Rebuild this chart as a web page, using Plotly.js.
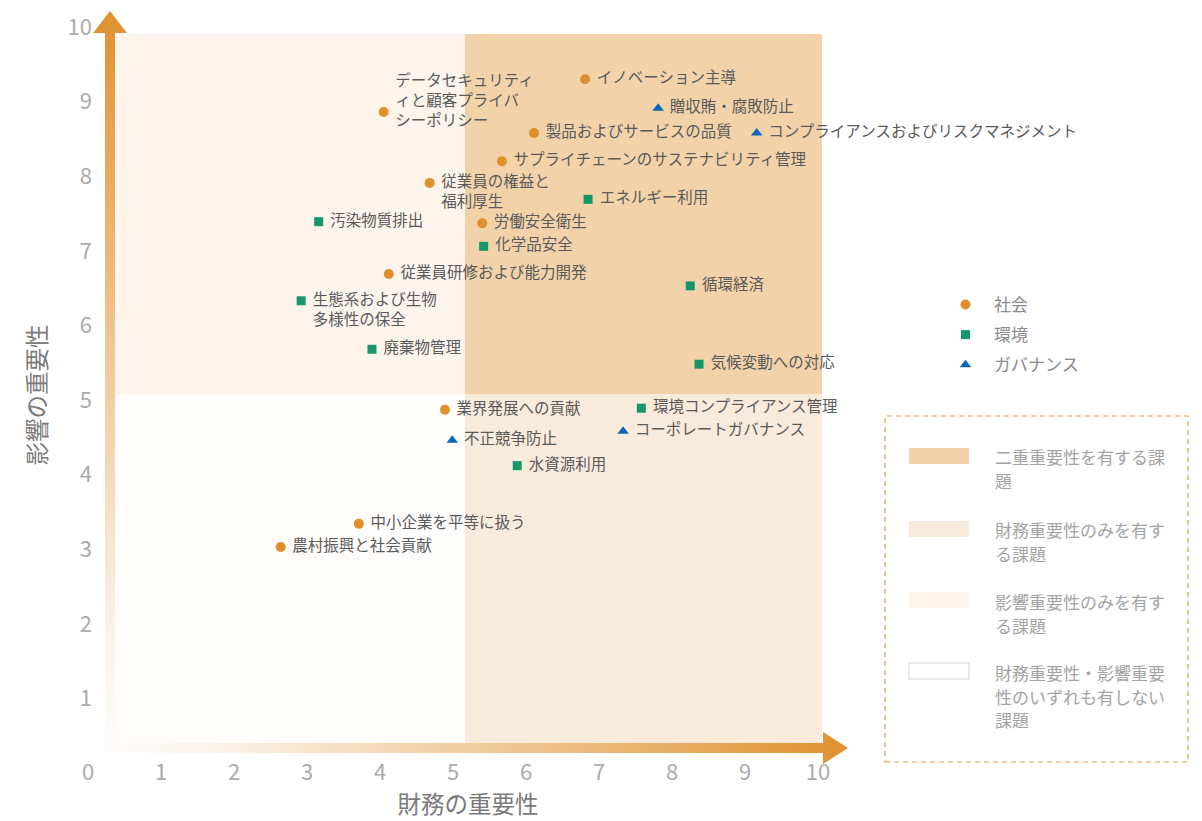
<!DOCTYPE html>
<html><head><meta charset="utf-8">
<script src="https://cdn.plot.ly/plotly-3.0.1.min.js"></script>
<style>html,body{margin:0;padding:0;background:#fff}#chart{width:1202px;height:821px}</style>
</head><body><div id="chart"></div>
<script>
// ---------- data ----------
const categories = ['社会', '環境', 'ガバナンス'];

const socialLabels = [
  'データセキュリティ<br>ィと顧客プライバ<br>シーポリシー<br>\u00a0',
  'イノベーション主導',
  '製品およびサービスの品質',
  'サプライチェーンのサステナビリティ管理',
  '\u00a0<br>従業員の権益と<br>福利厚生',
  '労働安全衛生',
  '従業員研修および能力開発',
  '業界発展への貢献',
  '中小企業を平等に扱う',
  '農村振興と社会貢献'
];
const socialX = [4.05, 6.81, 6.11, 5.67, 4.68, 5.40, 4.12, 4.89, 3.71, 2.64];
const socialY = [8.86, 9.30, 8.58, 8.20, 7.91, 7.37, 6.69, 4.87, 3.34, 3.03];

const envLabels = [
  '汚染物質排出',
  'エネルギー利用',
  '化学品安全',
  '循環経済',
  '\u00a0<br>生態系および生物<br>多様性の保全',
  '廃棄物管理',
  '気候変動への対応',
  '環境コンプライアンス管理',
  '水資源利用'
];
const envX = [3.16, 6.85, 5.42, 8.25, 2.92, 3.89, 8.37, 7.58, 5.88];
const envY = [7.39, 7.69, 7.06, 6.53, 6.33, 5.68, 5.48, 4.89, 4.12];

const govLabels = [
  '贈収賄・腐敗防止',
  'コンプライアンスおよびリスクマネジメント',
  '不正競争防止',
  'コーポレートガバナンス'
];
const govX = [7.81, 9.16, 4.99, 7.33];
const govY = [8.91, 8.58, 4.46, 4.58];

const xTickVals = [0, 1, 2, 3, 4, 5, 6, 7, 8, 9, 10];
const yTickVals = [1, 2, 3, 4, 5, 6, 7, 8, 9, 10];
const xTitle = '財務の重要性';
const yTitle = '影響の重要性';

const regionLabels = [
  ['二重重要性を有する課', '題'],
  ['財務重要性のみを有す', 'る課題'],
  ['影響重要性のみを有す', 'る課題'],
  ['財務重要性・影響重要', '性のいずれも有しない', '課題']
];

// ---------- styling ----------
const FONT = 'Noto Sans CJK JP, Noto Sans, sans-serif';
const C_SOC = '#e08f2c', C_ENV = '#16976a', C_GOV = '#0a67b8';
const ORANGE = '#e0912e';
const REG_COLORS = ['#f2d3a9', '#f9ebdc', '#fdf5ec', '#fefdfc'];

// pixel helpers for decoration (plot: l=76 r=342 t=0 b=31)
const W = 1202, H = 821, ML = 76, MR = 342, MT = 0, MB = 31;
const PW = W - ML - MR, PH = H - MT - MB;
const X0PX = 88, XU = 73, Y0PX = 773, YU = 74.6;
const dx = px => (px - X0PX) / XU;
const dy = py => (Y0PX - py) / YU;
const paperX = px => (px - ML) / PW;
const paperY = py => (H - MB - py) / PH;

const xRange = [dx(ML), dx(ML + PW)];
const yRange = [dy(MT + PH), dy(MT)];

// regions
const xMin = dx(115), xMax = dx(822), yMin = dy(743), yMax = dy(34);
const xSplit = dx(465), ySplit = dy(394);

function rect(x0, x1, y0, y1, color) {
  return {type: 'rect', xref: 'x', yref: 'y', x0, x1, y0, y1,
    fillcolor: color, line: {width: 0}, layer: 'below'};
}

const shapes = [
  rect(dx(105), xSplit, dy(752), ySplit, REG_COLORS[3]),
  rect(xMin, xSplit, ySplit, yMax, REG_COLORS[2]),
  rect(xSplit, xMax, yMin, ySplit, REG_COLORS[1]),
  rect(xSplit, xMax, ySplit, yMax, REG_COLORS[0]),
  // legend box
  {type: 'rect', xref: 'paper', yref: 'paper', x0: paperX(885), x1: paperX(1188),
   y0: paperY(762), y1: paperY(416), line: {color: '#e59a45', width: 1.2, dash: '5px,4px'}, fillcolor: 'rgba(0,0,0,0)'}
];
const swatchTop = [448, 521, 592, 663];
const lineY = [[456, 480], [529, 553], [601, 625], [672, 696, 719]];
const annotations = [];
regionLabels.forEach((lines, i) => {
  const border = i === 3 ? {color: '#d0d0d0', width: 1} : {width: 0};
  shapes.push({type: 'rect', xref: 'paper', yref: 'paper',
    x0: paperX(909), x1: paperX(969), y0: paperY(swatchTop[i] + 16), y1: paperY(swatchTop[i]),
    fillcolor: i === 3 ? '#ffffff' : REG_COLORS[i], line: border});
  lines.forEach((t, j) => {
    annotations.push({xref: 'paper', yref: 'paper', x: paperX(993), y: paperY(lineY[i][j]),
      xanchor: 'left', yanchor: 'middle', align: 'left', showarrow: false, text: t,
      font: {family: FONT, size: 17, color: '#a3a3a3'}});
  });
});

// arrows (decoration)
const vArrow = [[105, 752], [115, 752], [115, 33], [127, 33], [110, 11], [93, 33], [105, 33], [105, 752]];
const hArrow = [[95, 743], [823, 743], [823, 732], [848, 748], [823, 764], [823, 753], [95, 753], [95, 743]];
const grad = [[0, 'rgba(224,145,46,0)'], [0.15, 'rgba(224,145,46,0.08)'], [1, 'rgba(224,145,46,1)']];

const traces = [
  {x: vArrow.map(p => dx(p[0])), y: vArrow.map(p => dy(p[1])), mode: 'lines', fill: 'toself',
   line: {width: 0}, fillcolor: ORANGE, showlegend: false, hoverinfo: 'skip', cliponaxis: false,
   fillgradient: {type: 'vertical', colorscale: grad}},
  {x: hArrow.map(p => dx(p[0])), y: hArrow.map(p => dy(p[1])), mode: 'lines', fill: 'toself',
   line: {width: 0}, fillcolor: ORANGE, showlegend: false, hoverinfo: 'skip', cliponaxis: false,
   fillgradient: {type: 'horizontal', colorscale: grad}}
];

const groups = [
  {name: categories[0], x: socialX, y: socialY, t: socialLabels, c: C_SOC, s: 'circle', sz: 10},
  {name: categories[1], x: envX, y: envY, t: envLabels, c: C_ENV, s: 'square', sz: 9},
  {name: categories[2], x: govX, y: govY, t: govLabels, c: C_GOV, s: 'triangle-up', sz: 10}
];
// labels (invisible wider markers give the text its offset)
groups.forEach(g => {
  traces.push({x: g.x, y: g.y, text: g.t, mode: 'markers+text', type: 'scatter',
    textposition: 'middle right', showlegend: false, hoverinfo: 'skip', cliponaxis: false,
    textfont: {family: FONT, size: 15.5, color: '#5a5a5a'},
    marker: {color: g.c, symbol: g.s, size: 17, opacity: 0}});
});
groups.forEach((g, i) => {
  traces.push({x: g.x, y: g.y, name: g.name, mode: 'markers', type: 'scatter',
    legendgroup: 'g' + i, hoverinfo: 'text', text: g.t, cliponaxis: false,
    marker: {color: g.c, symbol: g.s, size: g.sz}});
});

const layout = {
  width: W, height: H,
  margin: {l: ML, r: MR, t: MT, b: MB},
  paper_bgcolor: '#ffffff', plot_bgcolor: 'rgba(0,0,0,0)',
  showlegend: true,
  legend: {x: paperX(937), y: paperY(287), xanchor: 'left', yanchor: 'top',
    font: {family: FONT, size: 17, color: '#8a8a8a'}, bgcolor: 'rgba(0,0,0,0)',
    tracegroupgap: 5, itemwidth: 47, traceorder: 'grouped'},
  xaxis: {range: xRange, tickvals: xTickVals, showgrid: false, zeroline: false, showline: false,
    anchor: 'free', position: paperY(757), ticks: '',
    tickfont: {family: FONT, size: 22, color: '#ababab'},
    title: {text: xTitle, font: {family: FONT, size: 23.5, color: '#7a7a7a'}, standoff: 11}},
  yaxis: {range: yRange, tickvals: yTickVals, showgrid: false, zeroline: false, showline: false,
    anchor: 'free', position: paperX(92), ticks: '',
    tickfont: {family: FONT, size: 22, color: '#ababab'},
    title: {text: yTitle, font: {family: FONT, size: 23.5, color: '#7a7a7a'}, standoff: 13}},
  shapes, annotations,
  font: {family: FONT}
};

Plotly.newPlot('chart', traces, layout, {displayModeBar: false, staticPlot: true});
</script></body></html>
